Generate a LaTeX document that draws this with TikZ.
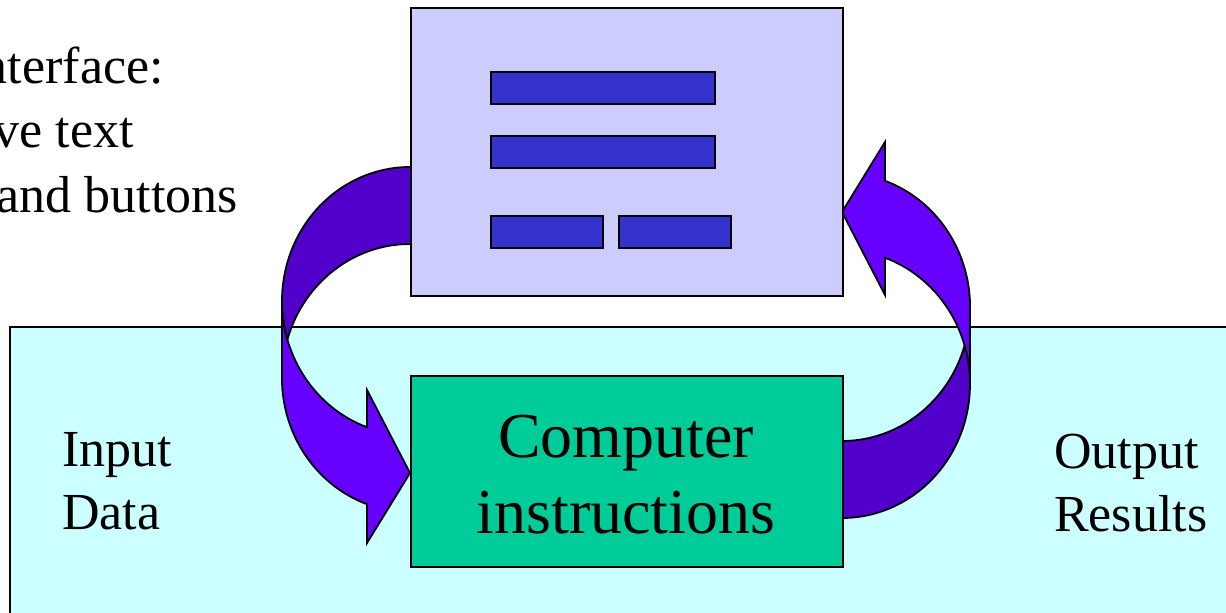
\documentclass[tikz,border=0pt]{standalone}
\usepackage{fontspec}
\setmainfont{Liberation Serif}
\definecolor{lavender}{HTML}{CCCCFF}
\definecolor{barblue}{HTML}{3333CC}
\definecolor{sea}{HTML}{00CC99}
\definecolor{paleCyan}{HTML}{CCFFFF}
\definecolor{arrfront}{HTML}{6600FF}
\definecolor{arrback}{HTML}{5200CC}
\tikzset{
  panel/.style={draw=black, line width=2pt},
  bar/.style={draw=black, line width=1.5pt, fill=barblue},
  arrpart/.style={draw=black, line width=1.8pt, line join=miter},
  txt/.style={inner sep=0pt, font=\fontsize{52}{63}\selectfont},
  bigtxt/.style={inner sep=0pt, font=\fontsize{64}{76}\selectfont},
}
\newcommand\curvarrow{%
  \fill[arrfront] (282,-301) arc[start angle=180, end angle=250.4, x radius=128, y radius=134]
     -- (367,-390) -- (410,-473) -- (367,-543) -- (367,-504.2)
     arc[start angle=250.4, end angle=180, x radius=128, y radius=134] -- cycle;
  \draw[arrpart] (282,-301) arc[start angle=180, end angle=250.4, x radius=128, y radius=134]
     -- (367,-390) -- (410,-473) -- (367,-543) -- (367,-504.2)
     arc[start angle=250.4, end angle=180, x radius=128, y radius=134] -- cycle;
  \fill[arrback] (410,-167) arc[start angle=90, end angle=196.7, x radius=128, y radius=134]
     arc[start angle=163.3, end angle=90, x radius=128, y radius=134] -- cycle;
  \draw[arrpart] (410,-167) arc[start angle=90, end angle=196.7, x radius=128, y radius=134]
     arc[start angle=163.3, end angle=90, x radius=128, y radius=134];
}
\begin{document}
\begin{tikzpicture}[x=1pt, y=1pt]
\useasboundingbox (0,0) rectangle (1226,-613);
\clip (0,0) rectangle (1226,-613);
\fill[white] (0,0) rectangle (1226,-613);

% background region
\draw[panel, fill=paleCyan] (10,-326.5) rectangle (1260,-660);

% curved arrows
\curvarrow
\begin{scope}[rotate around={180:(626,-342.5)}]
\curvarrow
\end{scope}

% interface window
\node[panel, fill=lavender, minimum width=432pt, minimum height=288pt, inner sep=0pt, anchor=north west] (ui) at (410,-7) {};
\node[bar, minimum width=224pt, minimum height=32pt, inner sep=0pt, anchor=north west] (f1) at (490,-71) {};
\node[bar, minimum width=224pt, minimum height=32pt, inner sep=0pt, anchor=north west] (f2) at (490,-135) {};
\node[bar, minimum width=112pt, minimum height=32pt, inner sep=0pt, anchor=north west] (b1) at (490,-215) {};
\node[bar, minimum width=112pt, minimum height=32pt, inner sep=0pt, anchor=north west] (b2) at (618,-215) {};

% computer instructions box
\node[panel, fill=sea, minimum width=432pt, minimum height=191pt, inner sep=0pt, anchor=north west] (ci) at (410,-375) {};
\node[bigtxt, anchor=base] (c1) at (626,-457) {Computer};
\node[bigtxt, anchor=base] (c2) at (626,-533) {instructions};

% side labels
\node[txt, anchor=base west] (in1) at (62,-466) {Input};
\node[txt, anchor=base west] (in2) at (62,-529) {Data};
\node[txt, anchor=base west] (out1) at (1054,-468) {Output};
\node[txt, anchor=base west] (out2) at (1054,-531) {Results};

% top-left text (cut by the page edge, as in the reference)
\node[txt, anchor=base east] (t1) at (164,-83) {nterface:};
\node[txt, anchor=base east] (t2) at (134,-147) {ve text};
\node[txt, anchor=base east] (t3) at (238,-212) {and buttons};
\end{tikzpicture}
\end{document}
